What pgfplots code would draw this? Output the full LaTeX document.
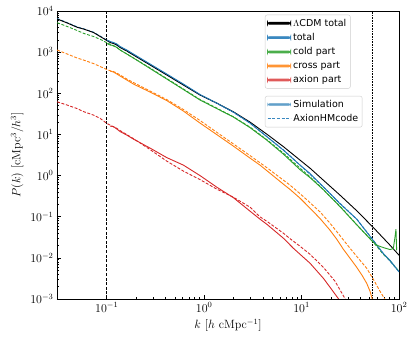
\documentclass[border=0pt]{standalone}
\usepackage{fontspec}
\usepackage{pgfplots}
\pgfplotsset{compat=1.18}
\newfontfamily\dejavu{DejaVu Sans}
\definecolor{tabblue}{HTML}{1F77B4}
\definecolor{taborange}{HTML}{FF7F0E}
\definecolor{tabgreen}{HTML}{2CA02C}
\definecolor{tabred}{HTML}{D62728}
\definecolor{legblue}{HTML}{3A88C0}
\definecolor{legsim}{HTML}{62A0CA}
\definecolor{legorange}{HTML}{FF9535}
\definecolor{leggreen}{HTML}{4BAE4B}
\definecolor{legred}{HTML}{E05A5A}

\begin{document}
\begin{tikzpicture}
  \begin{axis}[
    at={(0pt,0pt)}, anchor=south west,
    scale only axis, width=342pt, height=288pt,
    xmode=log, ymode=log,
    xmin=0.0309, xmax=100, ymin=1e-3, ymax=1e4,
    tick align=inside, tick pos=left,
    major tick length=4pt, minor tick length=2pt,
    xtick={0.1,1,10,100},
    axis line style={line width=0.7pt},
    every tick/.style={black, line width=0.5pt},
    tick label style={font=\fontsize{12}{14}\selectfont},
    xlabel={$k$ [$h$ cMpc$^{-1}$]},
    ylabel={$P(k)$ [cMpc$^3/h^3$]},
    label style={font=\large},
    every axis plot/.append style={line width=0.9pt},
    legend cell align=left,
    legend style={at={(0.608,0.987)}, anchor=north west, draw=black!20, rounded corners=2pt,
      fill=white, font=\dejavu\fontsize{9.5}{11}\selectfont,
      inner sep=2pt, row sep=1.6pt},
  ]
    % box scale and shot noise limit
    \addplot[forget plot, black, line width=0.7pt, dash pattern=on 3pt off 1.6pt] coordinates {(0.1,1e-3) (0.1,1e4)};
    \addplot[forget plot, black, line width=0.6pt, dash pattern=on 0.8pt off 0.8pt] coordinates {(52.8,1e-3) (52.8,1e4)};

    % AxionHMcode (dashed)
    \addplot[forget plot, tabblue, dash pattern=on 3pt off 1.6pt] coordinates {
      (0.0310,6570) (0.0394,5200) (0.0498,4100) (0.0578,3700) (0.0733,3050) (0.0858,2450)
      (0.1005,1950) (0.1175,1650) (0.1375,1310) (0.1884,860) (0.2793,495) (0.4140,283)
      (0.6138,162) (0.9099,91.5) (1.349,57) (1.998,34.5) (2.963,18.8) (4.394,8.9)
      (6.51,4.2) (9.65,1.8) (16.73,0.53) (24.83,0.21) (36.8,0.088) (52.48,0.030)
      (69.0,0.0128) (100,0.0046)};
    \addplot[forget plot, tabgreen, dash pattern=on 3pt off 1.6pt] coordinates {
      (0.0310,5192) (0.0394,4197) (0.0498,3354) (0.0578,2867) (0.0733,2397) (0.0858,2048)
      (0.1005,1693) (0.1086,1560) (0.1175,1407) (0.1273,1294) (0.1375,1125) (0.1611,899)
      (0.1884,718.6) (0.2793,410.4) (0.4140,227.9) (0.6138,126.6) (0.9099,70.3) (1.349,43.6)
      (1.998,26.8) (2.963,15.05) (4.394,7.47) (6.51,3.51) (9.65,1.51) (12.22,0.930)
      (16.73,0.459) (24.83,0.180) (36.8,0.0639) (52.48,0.0268) (69.0,0.0122) (80.9,0.0085)
      (100,0.00472)};
    \addplot[forget plot, taborange, dash pattern=on 3pt off 1.6pt] coordinates {
      (0.0310,1125) (0.0394,899) (0.0498,718.6) (0.0578,642.4) (0.0733,528) (0.0858,446.2)
      (0.1005,377.3) (0.1086,352.7) (0.1175,337.3) (0.1273,310.1) (0.1375,277.3) (0.1611,221.6)
      (0.1884,182.1) (0.2793,113.1) (0.4140,70.3) (0.6138,40.1) (0.9099,21.7) (1.349,11.25)
      (1.998,5.87) (2.963,3.05) (3.753,2.04) (4.394,1.56) (6.51,0.773) (7.623,0.584)
      (9.65,0.363) (12.22,0.219) (15.47,0.131) (19.60,0.0695) (24.83,0.0345) (31.44,0.0171)
      (36.8,0.0109) (46.6,0.00558) (54.5,0.00302) (63.83,0.00154) (71.8,0.00098) (77.1,0.0007)};
    \addplot[forget plot, tabred, dash pattern=on 3pt off 1.6pt] coordinates {
      (0.0310,62.1) (0.0394,51.6) (0.0498,42.4) (0.0578,35.9) (0.0733,29.5) (0.0858,24.5)
      (0.1005,18.5) (0.1086,16.8) (0.1273,14.0) (0.1375,12.4) (0.1611,9.89) (0.1884,7.90)
      (0.2793,4.27) (0.4140,2.24) (0.6138,1.28) (0.9099,0.795) (1.349,0.467) (1.998,0.298)
      (2.963,0.170) (3.753,0.0989) (4.394,0.0777) (6.51,0.0397) (7.623,0.0292) (9.65,0.0191)
      (12.22,0.0122) (16.73,0.00591) (22.06,0.00270) (27.93,0.00102) (29.29,0.000786)};

    % LCDM total
    \addplot[forget plot, black] coordinates {
      (0.0310,6389) (0.0394,5105) (0.0498,4013) (0.0578,3648) (0.0733,2999) (0.0858,2397)
      (0.1005,1915) (0.1086,1713) (0.1175,1620) (0.1273,1488) (0.1375,1294) (0.1611,1063)
      (0.1884,850) (0.2793,485.6) (0.4140,277.3) (0.6138,158.3) (0.9099,90.4) (1.349,57.7)
      (1.998,35.5) (2.963,19.9) (4.394,10.17) (6.51,5.05) (9.65,2.37) (12.22,1.51)
      (16.73,0.773) (24.83,0.3335) (36.8,0.140) (54.5,0.0546) (80.9,0.0203) (100,0.0116)};

    % Simulation (solid)
    \addplot[forget plot, tabblue] coordinates {
      (0.1005,1970) (0.1086,1811) (0.1175,1713) (0.1273,1574) (0.1375,1368) (0.1611,1125)
      (0.1884,899) (0.2793,513) (0.4140,293.3) (0.6138,167.4) (0.9099,93.0) (1.349,57.7)
      (1.998,34.9) (2.963,18.8) (4.394,8.84) (6.51,4.15) (9.65,1.79) (12.22,1.125)
      (16.73,0.531) (24.83,0.207) (36.8,0.0870) (52.48,0.0295) (69.0,0.0127) (80.9,0.00874)
      (100,0.00454)};
    \addplot[forget plot, tabgreen] coordinates {
      (0.1005,1620) (0.1086,1488) (0.1175,1447) (0.1273,1294) (0.1375,1125) (0.1611,899)
      (0.1884,718.6) (0.2793,399) (0.4140,221.6) (0.6138,123.0) (0.9099,68.3) (1.349,42.4)
      (1.998,26.4) (2.963,14.6) (4.394,7.27) (6.51,3.32) (9.65,1.39) (12.22,0.889)
      (16.73,0.454) (24.83,0.175) (36.8,0.0639) (52.48,0.0261) (59.0,0.0203) (69.0,0.0178)
      (80.9,0.0159) (87.4,0.0168) (91.0,0.0323) (93.1,0.0497) (94.6,0.0153)};
    \addplot[forget plot, taborange] coordinates {
      (0.1086,346.8) (0.1175,328.0) (0.1273,293.3) (0.1375,262.1) (0.1611,209.5) (0.1884,167.4)
      (0.2793,106.9) (0.4140,66.4) (0.6138,36.9) (0.9099,18.8) (1.349,9.89) (1.998,5.19)
      (2.963,2.65) (3.753,1.79) (4.394,1.32) (6.51,0.618) (7.623,0.459) (9.65,0.282)
      (12.22,0.161) (15.47,0.0904) (19.60,0.0469) (22.96,0.0284) (26.84,0.0162) (31.44,0.00978)
      (36.8,0.00591) (41.74,0.00377) (46.6,0.00241) (50.42,0.00154) (53.23,0.00098) (55.4,0.0007)};
    \addplot[forget plot, tabred] coordinates {
      (0.1086,15.9) (0.1175,15.5) (0.1273,13.5) (0.1375,11.7) (0.1611,9.62) (0.1884,7.68)
      (0.2793,4.64) (0.4140,2.73) (0.6138,1.79) (0.9099,0.9945) (1.349,0.522) (1.998,0.290)
      (2.963,0.136) (3.753,0.0870) (4.394,0.0657) (6.51,0.0300) (8.240,0.0171) (9.65,0.0122)
      (12.22,0.00739) (16.73,0.00319) (19.60,0.00193) (23.85,0.00102) (24.83,0.000832)};

    \addlegendimage{legend image code/.code={\fill[black] (0pt,-0.9pt) rectangle (23pt,0.9pt);}}
    \addlegendentry{$\Lambda$CDM total}
    \addlegendimage{legend image code/.code={\fill[legblue] (0pt,-0.9pt) rectangle (23pt,0.9pt);}}
    \addlegendentry{total}
    \addlegendimage{legend image code/.code={\fill[leggreen] (0pt,-0.9pt) rectangle (23pt,0.9pt);}}
    \addlegendentry{cold part}
    \addlegendimage{legend image code/.code={\fill[legorange] (0pt,-0.9pt) rectangle (23pt,0.9pt);}}
    \addlegendentry{cross part}
    \addlegendimage{legend image code/.code={\fill[legred] (0pt,-0.9pt) rectangle (23pt,0.9pt);}}
    \addlegendentry{axion part}
  \end{axis}

  \begin{axis}[
    at={(0pt,0pt)}, anchor=south west,
    scale only axis, width=342pt, height=288pt,
    xmode=log, ymode=log,
    xmin=0.0309, xmax=100, ymin=1e-3, ymax=1e4,
    hide axis,
    legend cell align=left,
    legend style={at={(0.608,0.705)}, anchor=north west, draw=black!20, rounded corners=2pt,
      fill=white, font=\dejavu\fontsize{9.5}{11}\selectfont,
      inner sep=2pt, row sep=1.6pt},
  ]
    \addlegendimage{legend image code/.code={\fill[legsim] (0pt,-0.9pt) rectangle (23pt,0.9pt);}}
    \addlegendentry{Simulation}
    \addlegendimage{legend image code/.code={\draw[legblue, line width=1.2pt, dash pattern=on 3pt off 1.6pt] (0pt,0pt) -- (23pt,0pt);}}
    \addlegendentry{AxionHMcode}
  \end{axis}

  \pgfresetboundingbox
  \path[use as bounding box] (-57pt,-45pt) rectangle (358pt,299pt);
\end{tikzpicture}
\end{document}
